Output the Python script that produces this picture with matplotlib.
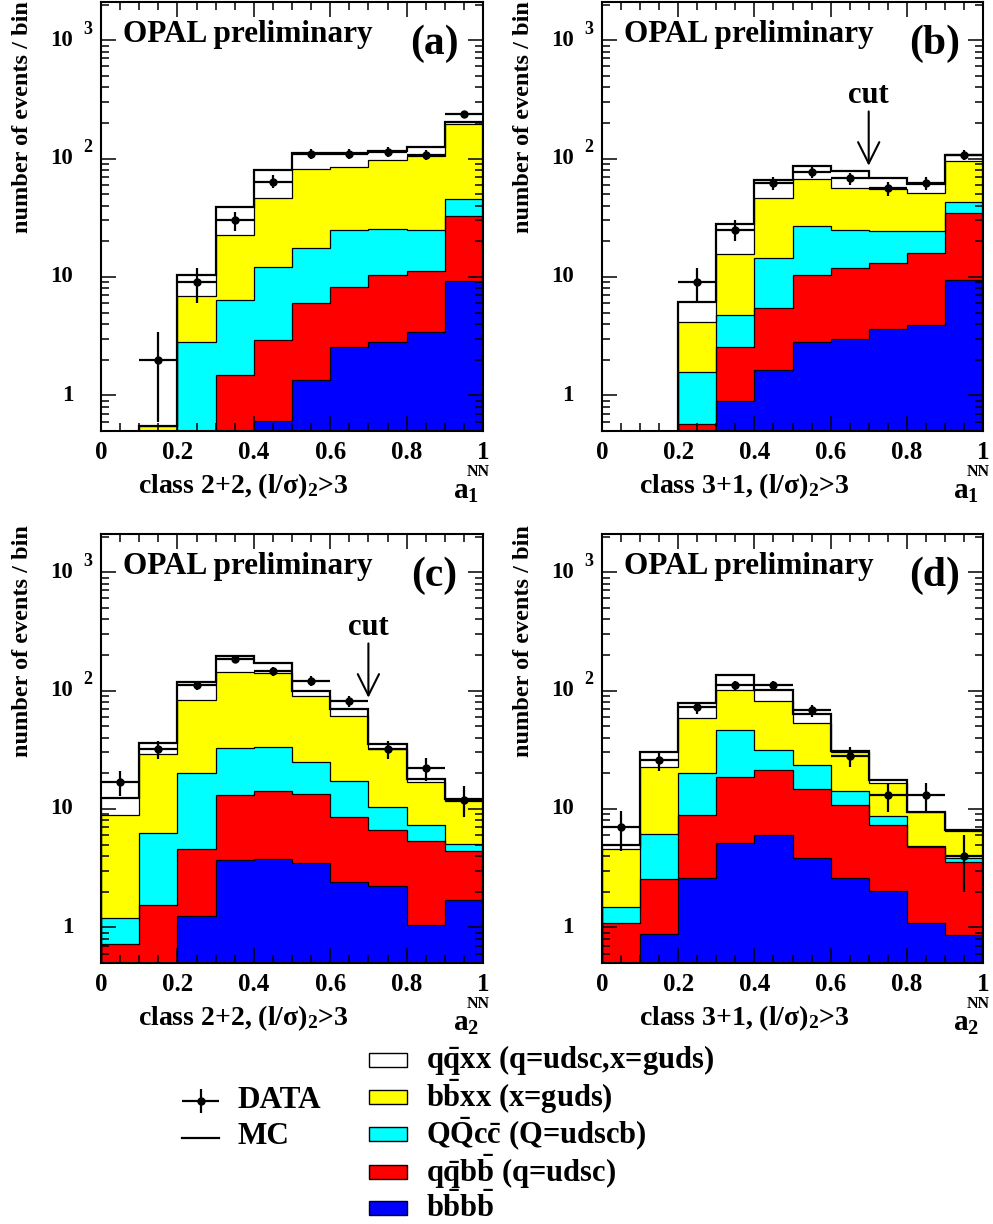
import numpy as np
import matplotlib.pyplot as plt
from matplotlib.patches import Rectangle
from matplotlib.ticker import MultipleLocator, LogLocator, NullFormatter, FuncFormatter
from matplotlib.transforms import offset_copy

plt.rcParams['font.family'] = 'Liberation Serif'
plt.rcParams['font.weight'] = 'bold'
plt.rcParams['mathtext.fontset'] = 'custom'
plt.rcParams['mathtext.rm'] = 'Liberation Serif:bold'
plt.rcParams['mathtext.bf'] = 'Liberation Serif:bold'
plt.rcParams['mathtext.it'] = 'Liberation Serif:bold:italic'
plt.rcParams['mathtext.default'] = 'bf'

# bin edges of the network output
bin_edges = [0.0, 0.1, 0.2, 0.3, 0.4, 0.5, 0.6, 0.7, 0.8, 0.9, 1.0]

# expected events per bin for each process (stacked bottom to top)
# (a) class 2+2, a1
a_bbbb = [0, 0, 0, 0, 0.61, 1.34, 2.54, 2.83, 3.44, 9.2]
a_qqbb = [0, 0, 0, 1.48, 2.35, 4.64, 5.74, 7.47, 7.76, 23.8]
a_QQcc = [0, 0, 2.8, 4.9, 9.1, 11.6, 16.7, 14.9, 13.5, 12.8]
a_bbxx = [0, 0.55, 4.1, 16.3, 34.6, 63.6, 60.0, 72.8, 80.3, 149.2]
a_qqxx = [0, 0, 3.4, 16.2, 33.0, 30.8, 27.0, 18.0, 19.0, 8.0]
a_data = [0, 2, 9, 30, 64, 110, 110, 114, 108, 239]
a_err = [0, 1.4, 3.0, 5.5, 8.0, 10.5, 10.5, 10.7, 10.4, 15.5]

# (b) class 3+1, a1
b_bbbb = [0, 0, 0, 0.9, 1.64, 2.8, 2.98, 3.6, 3.95, 9.4]
b_qqbb = [0, 0, 0.57, 1.67, 3.82, 7.6, 8.82, 9.5, 12.05, 25.5]
b_QQcc = [0, 0, 1.02, 2.23, 9.04, 16.5, 12.9, 11.2, 8.3, 8.3]
b_bbxx = [0, 0, 2.61, 10.7, 32.2, 39.9, 32.1, 31.4, 27.2, 52.4]
b_qqxx = [0, 0, 1.9, 12.3, 19.7, 20.4, 21.7, 13.3, 9.9, 11.4]
b_data = [0, 0, 9, 25, 62, 77, 68, 56, 62, 108]
b_err = [0, 0, 3.0, 5.0, 7.9, 8.8, 8.2, 7.5, 7.9, 10.4]

# (c) class 2+2, a2
c_bbbb = [0, 0, 1.25, 3.68, 3.8, 3.5, 2.42, 2.25, 1.05, 1.7]
c_qqbb = [0.72, 1.54, 3.35, 9.52, 10.5, 9.9, 6.18, 4.45, 4.3, 2.68]
c_QQcc = [0.48, 4.71, 15.4, 19.4, 19.1, 11.3, 8.7, 3.6, 1.9, 0.7]
c_bbxx = [7.7, 23.15, 64.0, 110.4, 107.6, 64.9, 43.5, 21.6, 9.55, 6.62]
c_qqxx = [3.4, 6.9, 34.0, 54.0, 30.0, 10.4, 8.4, 3.3, 1.1, 0.4]
c_data = [17, 32, 111, 185, 145, 121, 81, 32, 22, 12]
c_err = [4.1, 5.7, 10.5, 13.6, 12.0, 11.0, 9.0, 5.7, 4.7, 3.5]

# (d) class 3+1, a2
d_bbbb = [0, 0.88, 2.63, 5.18, 5.97, 3.87, 2.61, 2.02, 1.09, 0.86]
d_qqbb = [1.08, 1.7, 6.33, 13.52, 15.33, 10.83, 8.19, 5.23, 3.71, 2.7]
d_QQcc = [0.41, 3.59, 11.34, 27.4, 10.0, 8.7, 3.3, 1.55, 0.05, 0.29]
d_bbxx = [3.11, 16.23, 37.9, 55.9, 50.0, 29.4, 16.4, 7.7, 4.55, 2.65]
d_qqxx = [0.4, 8.1, 20.5, 34.0, 20.7, 10.9, 0.5, 1.0, 0.1, 0.1]
d_data = [7, 26, 72, 111, 111, 68, 28, 13, 13, 4]
d_err = [2.6, 5.1, 8.5, 10.5, 10.5, 8.2, 5.3, 3.6, 3.6, 2.0]

colours = ['#0000ff', '#ff0000', '#00ffff', '#ffff00', '#ffffff']
legend_labels = [r'$\mathbf{q\bar{q}xx}$ (q=udsc,x=guds)',
                 r'$\mathbf{b\bar{b}xx}$ (x=guds)',
                 r'$\mathbf{Q\bar{Q}c\bar{c}}$ (Q=udscb)',
                 r'$\mathbf{q\bar{q}b\bar{b}}$ (q=udsc)',
                 r'$\mathbf{b\bar{b}b\bar{b}}$']

W, H = 993, 1224
fig = plt.figure(figsize=(W / 100, H / 100), dpi=100)


def px_axes(left, top, right, bottom):
    return fig.add_axes([left / W, 1 - bottom / H, (right - left) / W, (bottom - top) / H])


def draw_panel(ax, comps, data, err, letter, cls, var, cut=False, ylab_top=1.0):
    edges = np.array(bin_edges)
    centres = 0.5 * (edges[:-1] + edges[1:])
    stack = np.cumsum(np.array(comps, dtype=float), axis=0)
    floor = 1e-3
    # draw from the full MC sum down to bbbb so each layer sits on top
    for i in range(len(stack) - 1, -1, -1):
        level = np.where(stack[i] > 0, stack[i], floor)
        ax.stairs(level, edges, baseline=floor, fill=True, color=colours[i], zorder=1)
        ax.stairs(level, edges, baseline=floor, color='k',
                  lw=1.6 if i == len(stack) - 1 else 0.9, zorder=2)

    data = np.array(data, dtype=float)
    err = np.array(err, dtype=float)
    m = data > 0
    ax.errorbar(centres[m], data[m], xerr=0.05, yerr=err[m], fmt='o', color='k',
                ms=5, lw=1.6, capsize=0, zorder=3)

    ax.set_xlim(0, 1)
    ax.set_yscale('log')
    ax.set_ylim(0.5, 2100)
    ax.xaxis.set_major_locator(MultipleLocator(0.2))
    ax.xaxis.set_minor_locator(MultipleLocator(0.05))
    ax.xaxis.set_major_formatter(FuncFormatter(lambda v, _: f'{v:g}'))
    ax.yaxis.set_major_locator(LogLocator(base=10))
    ax.yaxis.set_minor_locator(LogLocator(base=10, subs=np.arange(2, 10)))
    ax.yaxis.set_major_formatter(NullFormatter())
    ax.yaxis.set_minor_formatter(NullFormatter())
    ax.tick_params(which='both', direction='in', top=True, right=True, width=1.1)
    ax.tick_params(which='major', length=11, labelsize=18, pad=7)
    ax.tick_params(which='minor', length=5.5)
    for s in ax.spines.values():
        s.set_linewidth(1.5)
        s.set_zorder(5)

    # y tick labels in the "10 ^n" style
    ytr = ax.get_yaxis_transform()
    for v, base, sup in [(1, '1', ''), (10, '10', ''), (100, '10', '2'), (1000, '10', '3')]:
        ax.text(0, v, base, transform=offset_copy(ytr, fig, x=-28, units='dots'),
                ha='right', va='center', fontsize=16.5)
        if sup:
            ax.text(0, v, sup, transform=offset_copy(ytr, fig, x=-18, y=11, units='dots'),
                    ha='left', va='center', fontsize=13)

    ax.text(-0.205, ylab_top, 'number of events / bin', transform=ax.transAxes,
            rotation=90, ha='center', va='top', fontsize=17.5)
    ax.text(0.058, 0.925, 'OPAL preliminary', transform=ax.transAxes,
            ha='left', va='center', fontsize=22.5)
    ax.text(0.872, 0.902, letter, transform=ax.transAxes,
            ha='center', va='center', fontsize=30)

    ax.text(0.097, 0, cls, transform=offset_copy(ax.transAxes, fig, y=-62, units='dots'),
            ha='left', va='baseline', fontsize=20)
    ax.text(0.921, 0, var, transform=offset_copy(ax.transAxes, fig, y=-68, units='dots'),
            ha='left', va='baseline', fontsize=21)
    ax.text(0.958, 0, 'NN', transform=offset_copy(ax.transAxes, fig, y=-45, units='dots'),
            ha='left', va='baseline', fontsize=11.5)

    if cut:
        ax.annotate('', xy=(0.7, 87), xytext=(0.7, 250),
                    arrowprops=dict(arrowstyle='->,head_length=0.9,head_width=0.45',
                                    color='k', lw=1.5, mutation_scale=17,
                                    shrinkA=0, shrinkB=0))
        ax.text(0.7, 0.781, 'cut', transform=ax.transAxes, ha='center', va='center',
                fontsize=22)


ax_a = px_axes(101, 2, 483, 431)
ax_b = px_axes(602, 2, 983, 431)
ax_c = px_axes(101, 534, 483, 963)
ax_d = px_axes(602, 534, 983, 963)

cls22 = 'class 2+2, (l/σ)$_\\mathbf{2}$>3'
cls31 = 'class 3+1, (l/σ)$_\\mathbf{2}$>3'
draw_panel(ax_a, [a_bbbb, a_qqbb, a_QQcc, a_bbxx, a_qqxx], a_data, a_err,
           '(a)', cls22, r'a$_\mathbf{1}$', ylab_top=1 + 1 / 429)
draw_panel(ax_b, [b_bbbb, b_qqbb, b_QQcc, b_bbxx, b_qqxx], b_data, b_err,
           '(b)', cls31, r'a$_\mathbf{1}$', cut=True, ylab_top=1 + 1 / 429)
draw_panel(ax_c, [c_bbbb, c_qqbb, c_QQcc, c_bbxx, c_qqxx], c_data, c_err,
           '(c)', cls22, r'a$_\mathbf{2}$', cut=True, ylab_top=1 + 9 / 429)
draw_panel(ax_d, [d_bbbb, d_qqbb, d_QQcc, d_bbxx, d_qqxx], d_data, d_err,
           '(d)', cls31, r'a$_\mathbf{2}$', ylab_top=1 + 9 / 429)

# legend drawn in figure pixel space
leg = fig.add_axes([0, 0, 1, 1], zorder=-1)
leg.set_xlim(0, W)
leg.set_ylim(H, 0)
leg.axis('off')
leg.errorbar([200.5], [1101], xerr=[18.5], yerr=[12], fmt='o', color='k', ms=5, lw=1.6, capsize=0)
leg.plot([182, 219], [1138, 1138], color='k', lw=1.6)
leg.text(238, 1101, 'DATA', ha='left', va='center', fontsize=22.5)
leg.text(238, 1137, 'MC', ha='left', va='center', fontsize=22.5)
row_y = [1060, 1097, 1134, 1172, 1208]
for y, colour, label in zip(row_y, colours[::-1], legend_labels):
    leg.add_patch(Rectangle((369, y - 7), 38, 14, facecolor=colour, edgecolor='k', lw=1))
    leg.text(426, y, label, ha='left', va='center', fontsize=22)

fig.savefig('out.png', dpi=100)
